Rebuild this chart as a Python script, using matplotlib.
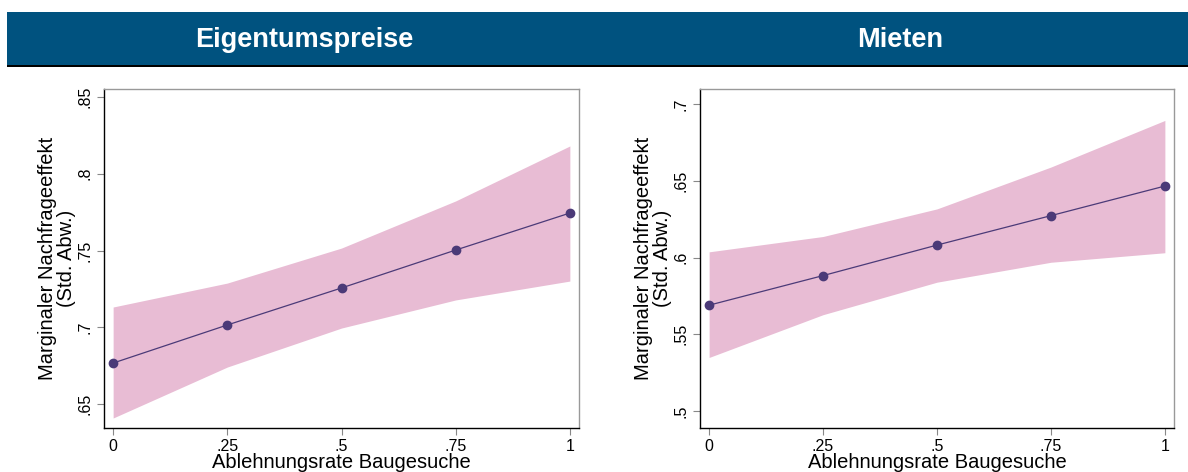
import numpy as np
import matplotlib.pyplot as plt
from matplotlib.patches import Rectangle

plt.rcParams['font.family'] = ['Liberation Sans', 'DejaVu Sans']

# data
x_vals = [0, 0.25, 0.5, 0.75, 1]

eig_est = [0.6767, 0.7015, 0.7256, 0.7503, 0.7744]
eig_lo = [0.6409, 0.6741, 0.6995, 0.7178, 0.7301]
eig_hi = [0.7132, 0.7288, 0.7516, 0.7823, 0.8181]

mie_est = [0.5689, 0.5882, 0.6081, 0.6273, 0.6466]
mie_lo = [0.5348, 0.5627, 0.5839, 0.5969, 0.6031]
mie_hi = [0.6037, 0.6137, 0.6317, 0.6590, 0.6894]

titles = ['Eigentumspreise', 'Mieten']
x_ticks = [0, 0.25, 0.5, 0.75, 1]
x_ticklabels = ['0', '.25', '.5', '.75', '1']
eig_yticks = [0.65, 0.7, 0.75, 0.8, 0.85]
eig_yticklabels = ['.65', '.7', '.75', '.8', '.85']
mie_yticks = [0.5, 0.55, 0.6, 0.65, 0.7]
mie_yticklabels = ['.5', '.55', '.6', '.65', '.7']

fill_col = '#e8bcd4'
line_col = '#4b3a78'
head_col = '#00527f'

fig = plt.figure(figsize=(11.88, 4.72), dpi=100)

# header bar
fig.patches.append(Rectangle((7 / 1188, 1 - 65 / 472), 1 - 7 / 1188, 53 / 472,
                             transform=fig.transFigure, facecolor=head_col,
                             edgecolor='none'))
fig.patches.append(Rectangle((7 / 1188, 1 - 67 / 472), 1 - 7 / 1188, 2 / 472,
                             transform=fig.transFigure, facecolor='black',
                             edgecolor='none'))
fig.text(304 / 1188, 1 - 40 / 472, titles[0], color='white', fontsize=19.5,
         fontweight='bold', ha='center', va='center')
fig.text(900 / 1188, 1 - 40 / 472, titles[1], color='white', fontsize=19.5,
         fontweight='bold', ha='center', va='center')

ax1 = fig.add_axes([104 / 1188, 1 - 428 / 472, 475 / 1188, 339 / 472])
ax2 = fig.add_axes([700 / 1188, 1 - 428 / 472, 474 / 1188, 339 / 472])

panels = [
    (ax1, eig_est, eig_lo, eig_hi, eig_yticks, eig_yticklabels, (0.6344, 0.8552)),
    (ax2, mie_est, mie_lo, mie_hi, mie_yticks, mie_yticklabels, (0.4888, 0.7099)),
]

for ax, est, lo, hi, yt, ytl, ylim in panels:
    ax.fill_between(x_vals, lo, hi, color=fill_col, linewidth=0)
    ax.plot(x_vals, est, color=line_col, linewidth=0.9, marker='o',
            markersize=6, markerfacecolor=line_col, markeredgecolor=line_col)
    ax.set_xlim(-0.02, 1.02)
    ax.set_ylim(*ylim)
    ax.set_xticks(x_ticks)
    ax.set_xticklabels(x_ticklabels, fontsize=11.5)
    ax.set_yticks(yt)
    ax.set_yticklabels(ytl, fontsize=11.5, rotation=90, va='center')
    ax.tick_params(direction='out', length=5, width=0.8, color='#888888', pad=3)
    ax.set_xlabel('Ablehnungsrate Baugesuche', fontsize=14.5, labelpad=-1)
    ax.set_ylabel('Marginaler Nachfrageeffekt\n(Std. Abw.)', fontsize=14.5,
                  linespacing=1.05, labelpad=1)
    ax.spines['left'].set_color('black')
    ax.spines['bottom'].set_color('black')
    ax.spines['top'].set_color('#999999')
    ax.spines['right'].set_color('#999999')
    for s in ax.spines.values():
        s.set_linewidth(1.0)

fig.savefig('out.png', dpi=100)
